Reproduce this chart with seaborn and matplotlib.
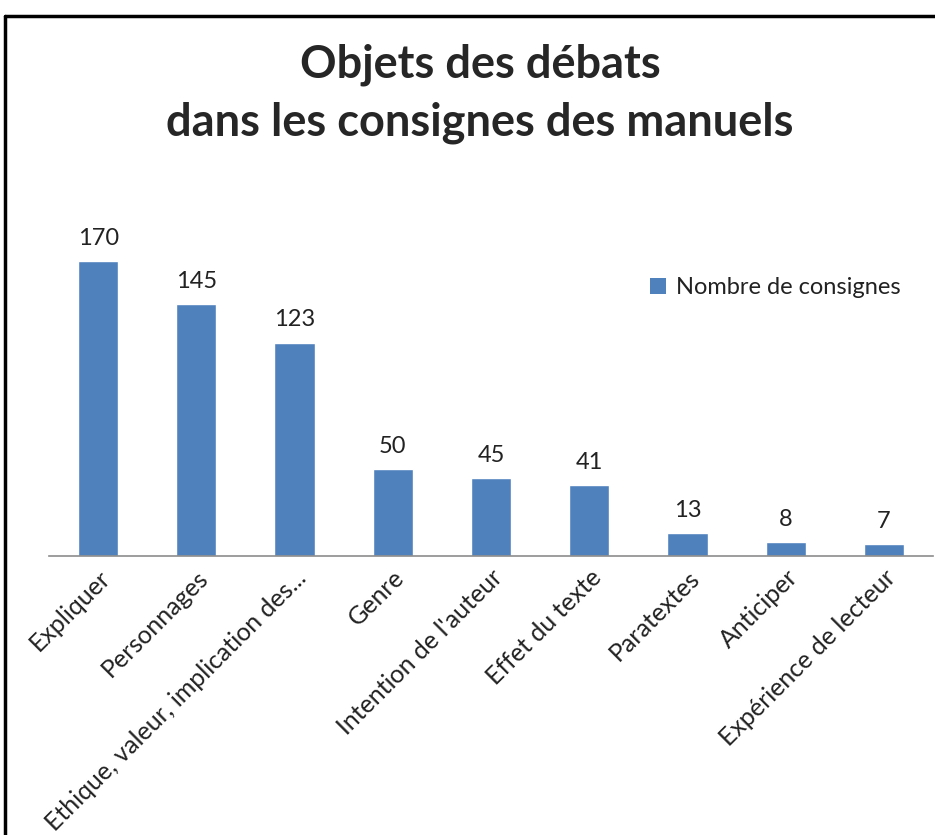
import pandas as pd
import matplotlib.pyplot as plt
import seaborn as sns
from matplotlib.lines import Line2D
from matplotlib.patches import Patch

# Data
categories = [
    "Expliquer",
    "Personnages",
    "Ethique, valeur, implication des...",
    "Genre",
    "Intention de l'auteur",
    "Effet du texte",
    "Paratextes",
    "Anticiper",
    "Expérience de lecteur",
]
counts = [170, 145, 123, 50, 45, 41, 13, 8, 7]
series_name = "Nombre de consignes"
title = "Objets des débats\ndans les consignes des manuels"

BAR_COLOR = "#4F81BD"
FONT = ["Lato", "DejaVu Sans"]

df = pd.DataFrame({"Objet": categories, "Nombre": counts})

sns.set_style("white")
plt.rcParams["font.family"] = FONT

fig = plt.figure(figsize=(9.35, 8.35), dpi=100)
ax = fig.add_axes([49 / 935, 279 / 835, 884 / 935, 347 / 835])

sns.barplot(data=df, x="Objet", y="Nombre", color=BAR_COLOR, width=0.41,
            saturation=1, ax=ax)
ax.set_xlim(-0.5, len(categories) - 0.5)
ax.set_ylim(0, 200)

# value labels
for i, v in enumerate(counts):
    ax.text(i, v + 7, str(v), ha="center", va="bottom", fontsize=17, color="#222222")

ax.set_xlabel("")
ax.set_ylabel("")
ax.set_yticks([])
ax.set_xticks(range(len(categories)))
ax.set_xticklabels(categories, rotation=45, ha="right", rotation_mode="anchor",
                   fontsize=18, color="#222222")
ax.tick_params(axis="x", length=0, pad=7)
for s in ["top", "right", "left"]:
    ax.spines[s].set_visible(False)
ax.spines["bottom"].set_color("#8c8c8c")
ax.spines["bottom"].set_linewidth(1.2)

handles = [Patch(facecolor=BAR_COLOR, edgecolor="none", label=series_name)]
fig.legend(handles=handles, loc="center left", bbox_to_anchor=(629 / 935, 1 - 288 / 835),
           frameon=False, fontsize=17, handlelength=0.65, handleheight=0.65,
           handletextpad=0.45, labelcolor="#222222")

fig.text(480 / 935, 1 - 94 / 835, title, ha="center", va="center", fontsize=32.5,
         fontweight="bold", linespacing=1.45)

# outer frame (top and left edge)
fig.add_artist(Line2D([5 / 935, 1.0], [1 - 16 / 835, 1 - 16 / 835], color="black",
                      linewidth=2.5, transform=fig.transFigure))
fig.add_artist(Line2D([5 / 935, 5 / 935], [0.0, 1 - 16 / 835], color="black",
                      linewidth=2.5, transform=fig.transFigure))

fig.savefig("out.png", dpi=100, facecolor="white")
